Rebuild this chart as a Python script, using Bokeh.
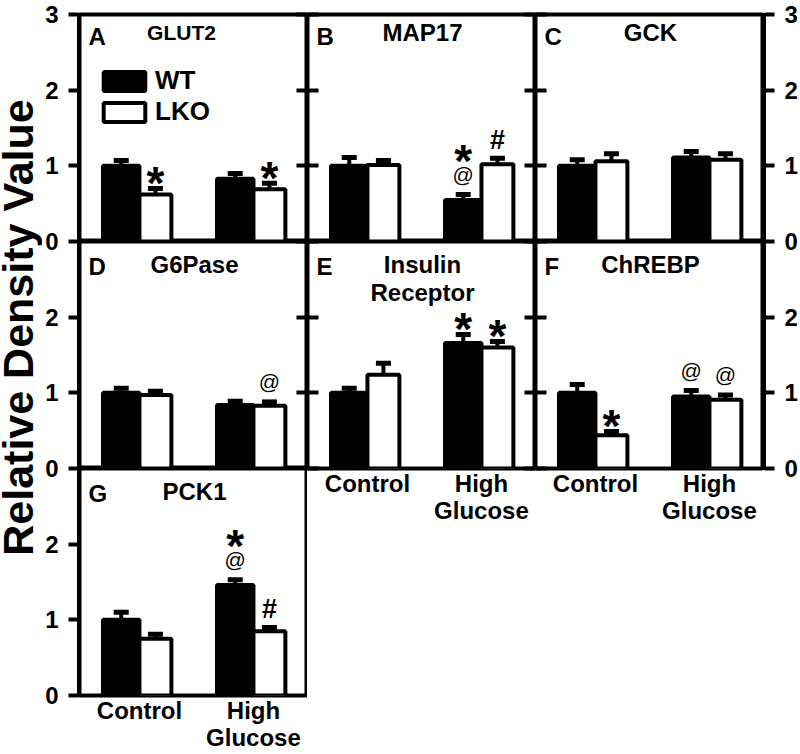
import math
from bokeh.plotting import figure
from bokeh.models import (Range1d, FixedTicker, LinearAxis, Label, Legend, LegendItem,
                          Whisker, TeeHead, ColumnDataSource)
from bokeh.layouts import row, column
from bokeh.embed import file_html
from bokeh.resources import INLINE

# ---------------- data ----------------
panel_letters = ["A", "B", "C", "D", "E", "F", "G"]
panel_titles = [["GLUT2"], ["MAP17"], ["GCK"], ["G6Pase"], ["Insulin", "Receptor"], ["ChREBP"], ["PCK1"]]
conditions = ["Control", "High\nGlucose"]
genotypes = ["WT", "LKO"]
y_ticks = [0, 1, 2, 3]
y_tick_labels = ["0", "1", "2", "3"]
y_axis_title = "Relative Density Value"

# values per panel A..G : [Control, High Glucose]
wt_mean = [[1.00, 0.83], [1.00, 0.55], [1.00, 1.11], [1.00, 0.84], [1.00, 1.66], [1.00, 0.95], [1.00, 1.46]]
wt_err = [[0.07, 0.07], [0.11, 0.07], [0.08, 0.08], [0.06, 0.05], [0.06, 0.11], [0.11, 0.08], [0.10, 0.07]]
lko_mean = [[0.62, 0.69], [1.01, 1.02], [1.06, 1.08], [0.97, 0.83], [1.24, 1.60], [0.44, 0.91], [0.75, 0.85]]
lko_err = [[0.08, 0.08], [0.06, 0.08], [0.10, 0.08], [0.05, 0.05], [0.15, 0.08], [0.05, 0.06], [0.06, 0.05]]
# significance marks above each bar, listed bottom-to-top
wt_marks = [[[], []], [[], ["@", "*"]], [[], []], [[], []], [[], ["*"]], [[], ["@"]], [[], ["@", "*"]]]
lko_marks = [[["*"], ["*"]], [[], ["#"]], [[], []], [[], ["@"]], [[], ["*"]], [["*"], ["@"]], [[], ["#"]]]

# panel grid position (row, col); row 0 = top
panel_pos = [(0, 0), (0, 1), (0, 2), (1, 0), (1, 1), (1, 2), (2, 0)]
panel_xlabels = [False, False, False, False, True, True, True]

# ---------------- style ----------------
FONT = "Liberation Sans"
FW, FH = 228, 227
TOP, BOTTOM = 14, 58
TITLE_W = 42
XR = (-0.526, 1.474)
WT_OFF, WT_W = -0.16, 0.32
LKO_OFF, LKO_W = 0.14, 0.28
MID = 0.35  # em height of the "middle" text anchor above the baseline
# symbol: font px, style, ink-bottom above baseline (em), ink height (em)
MARK_STYLE = {"*": (46, "bold", 0.43, 0.29), "@": (21, "normal", -0.20, 0.93), "#": (27, "bold", -0.01, 0.73)}
TITLE_SIZE = {"A": "21px"}
TITLE_X = {"A": 102}
TITLE_DY = [18, 23, 23]   # per row, px below frame top (text centre)
LETTER_DY = [22, 25, 25]


def inner_axis():
    ax = LinearAxis(ticker=FixedTicker(ticks=y_ticks))
    ax.major_tick_in = 11
    ax.major_tick_out = 0
    ax.major_tick_line_width = 4
    ax.major_tick_line_color = "black"
    ax.minor_tick_line_color = None
    ax.axis_line_color = None
    ax.major_label_text_font_size = "0px"
    ax.major_label_text_color = None
    ax.major_label_standoff = 0
    return ax


def outer_axis(n_rows):
    ticks = {}
    for r in range(n_rows):
        for t, lab in zip(y_ticks, y_tick_labels):
            pos = r * y_ticks[-1] + t
            if pos not in ticks or t == 0:
                ticks[pos] = lab
    ax = LinearAxis(ticker=FixedTicker(ticks=sorted(ticks)))
    ax.major_label_overrides = {k: v for k, v in ticks.items()}
    ax.major_tick_in = 0
    ax.major_tick_out = 10
    ax.major_tick_line_width = 4
    ax.major_tick_line_color = "black"
    ax.minor_tick_line_color = None
    ax.axis_line_color = "black"
    ax.axis_line_width = 3
    ax.axis_line_cap = "square"
    ax.major_label_standoff = 10
    ax.major_label_text_font = FONT
    ax.major_label_text_font_size = "24px"
    ax.major_label_text_font_style = "bold"
    ax.major_label_text_color = "black"
    return ax


def make_panel(i):
    r, c = panel_pos[i]
    xl = panel_xlabels[i]
    p = figure(frame_width=FW, frame_height=FH, x_range=Range1d(*XR), y_range=Range1d(0, 3),
               output_backend="svg", toolbar_location=None,
               x_axis_location="below" if xl else None, y_axis_location=None,
               min_border_left=0, min_border_right=0,
               min_border_top=TOP if r == 0 else 0, min_border_bottom=BOTTOM if xl else 0,
               background_fill_color="white", border_fill_color="white",
               outline_line_color="black", outline_line_width=4)
    p.xgrid.visible = False
    p.ygrid.visible = False
    if c > 0:
        p.add_layout(inner_axis(), "left")
    if c < 2 and r < 2:
        p.add_layout(inner_axis(), "right")
    if xl:
        ax = p.xaxis[0]
        ax.ticker = FixedTicker(ticks=[0, 1])
        ax.major_label_overrides = {0: conditions[0], 1: conditions[1]}
        ax.major_tick_in = 0
        ax.major_tick_out = 0
        ax.minor_tick_line_color = None
        ax.axis_line_color = None
        ax.major_label_standoff = 1
        ax.major_label_text_font = FONT
        ax.major_label_text_font_size = "24px"
        ax.major_label_text_font_style = "bold"
        ax.major_label_text_color = "black"
        try:
            ax.major_label_text_line_height = 1.0
        except Exception:
            pass

    xs = [0, 1]
    wt_x = [x + WT_OFF for x in xs]
    lko_x = [x + LKO_OFF for x in xs]
    wt_up = [m + e for m, e in zip(wt_mean[i], wt_err[i])]
    lko_up = [m + e for m, e in zip(lko_mean[i], lko_err[i])]
    wt_src = ColumnDataSource(dict(x=wt_x, top=wt_mean[i], upper=wt_up))
    lko_src = ColumnDataSource(dict(x=lko_x, top=lko_mean[i], upper=lko_up))
    r_wt = p.vbar(x="x", top="top", bottom=0, width=WT_W, source=wt_src,
                  fill_color="black", line_color="black", line_width=4)
    r_lko = p.vbar(x="x", top="top", bottom=0, width=LKO_W, source=lko_src,
                   fill_color="white", line_color="black", line_width=4)
    for src in (wt_src, lko_src):
        p.add_layout(Whisker(source=src, base="x", lower="top", upper="upper", dimension="height",
                             line_color="black", line_width=4,
                             upper_head=TeeHead(size=15, line_width=5, line_color="black"),
                             lower_head=None))

    # significance marks, stacked above the error-bar cap
    for bx, ups, marks in ((wt_x, wt_up, wt_marks[i]), (lko_x, lko_up, lko_marks[i])):
        for k in range(2):
            cur = 9.0
            for m in marks[k]:
                size, style, ib, h = MARK_STYLE[m]
                p.add_layout(Label(x=bx[k], y=ups[k], text=m, y_offset=cur - (ib - MID) * size,
                                   text_font=FONT, text_font_size=f"{size}px", text_font_style=style,
                                   text_align="center", text_baseline="middle",
                                   text_color="black"))
                cur += h * size + 9

    letter = panel_letters[i]
    p.add_layout(Label(x=9, y=FH - LETTER_DY[r], x_units="screen", y_units="screen", text=letter,
                       text_font=FONT, text_font_size="24px", text_font_style="bold",
                       text_align="left", text_baseline="middle", text_color="black"))
    for j, line in enumerate(panel_titles[i]):
        p.add_layout(Label(x=TITLE_X.get(letter, FW / 2 + 1), y=FH - TITLE_DY[r] - 28 * j,
                           x_units="screen", y_units="screen", text=line,
                           text_font=FONT, text_font_size=TITLE_SIZE.get(letter, "24px"),
                           text_font_style="bold", text_align="center",
                           text_baseline="middle", text_color="black"))

    if i == 0:
        leg = Legend(items=[LegendItem(label=genotypes[0], renderers=[r_wt]),
                            LegendItem(label=genotypes[1], renderers=[r_lko])],
                     location=(19, FH - 53 - 60), orientation="vertical",
                     border_line_color=None, background_fill_alpha=0,
                     padding=0, margin=0, spacing=0,
                     glyph_width=52, glyph_height=24, label_height=20, label_standoff=5,
                     label_text_font=FONT, label_text_font_size="26px",
                     label_text_font_style="bold", label_text_color="black")
        p.add_layout(leg)
    return p


panels = [make_panel(i) for i in range(len(panel_letters))]
total_h = TOP + 3 * FH + BOTTOM

# y-axis title
T = figure(frame_width=TITLE_W, frame_height=total_h, x_range=Range1d(0, 1), y_range=Range1d(0, 1),
           output_backend="svg", toolbar_location=None, x_axis_location=None, y_axis_location=None,
           min_border_left=0, min_border_right=0, min_border_top=0, min_border_bottom=0,
           outline_line_color=None, border_fill_color="white", background_fill_color="white")
T.xgrid.visible = False
T.ygrid.visible = False
T.add_layout(Label(x=17, y=total_h - 327 + 14, x_units="screen", y_units="screen", text=y_axis_title,
                   angle=math.pi / 2, text_font=FONT, text_font_size="43px", text_font_style="bold",
                   text_align="center", text_baseline="middle", text_color="black",
                   text_line_height=0.9))

# left strip: shared outer y axis of column 1
L = figure(frame_width=1, frame_height=3 * FH, x_range=Range1d(0, 1), y_range=Range1d(0, 3 * y_ticks[-1]),
           output_backend="svg", toolbar_location=None, x_axis_location=None, y_axis_location=None,
           min_border_left=35, min_border_right=0, min_border_top=TOP, min_border_bottom=BOTTOM,
           outline_line_color=None, border_fill_color="white", background_fill_color="white")
L.xgrid.visible = False
L.ygrid.visible = False
L.add_layout(outer_axis(3), "left")

# right strip: shared outer y axis of column 3
R = figure(frame_width=1, frame_height=2 * FH, x_range=Range1d(0, 1), y_range=Range1d(0, 2 * y_ticks[-1]),
           output_backend="svg", toolbar_location=None, x_axis_location=None, y_axis_location=None,
           min_border_left=0, min_border_right=36, min_border_top=TOP, min_border_bottom=16,
           outline_line_color=None, border_fill_color="white", background_fill_color="white")
R.xgrid.visible = False
R.ygrid.visible = False
R.add_layout(outer_axis(2), "right")

A, B, C, D, E, F, G = panels
layout = row(T, L, column(A, D, G), column(B, E), column(C, F), R)

open("out.html", "w").write(file_html(layout, INLINE))
